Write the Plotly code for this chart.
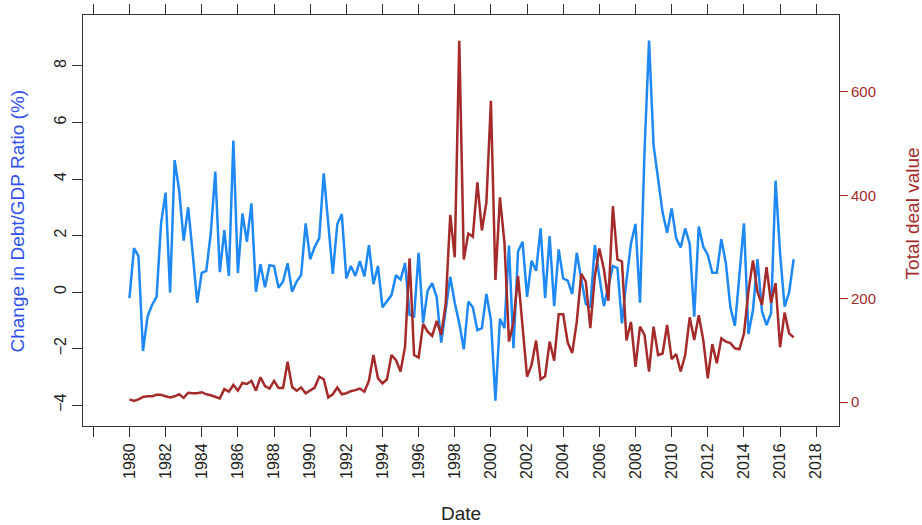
import plotly.graph_objects as go

# Quarterly data, 1980Q1 .. 2016Q4
debt_gdp_change = [
    -0.22, 1.55, 1.27, -2.09, -0.87, -0.46, -0.17, 2.43, 3.52, -0.02,
    4.67, 3.61, 1.82, 3.00, 1.37, -0.38, 0.68, 0.75, 2.08, 4.26,
    0.70, 2.19, 0.57, 5.36, 0.67, 2.78, 1.78, 3.14, 0.01, 0.98,
    0.17, 0.95, 0.92, 0.15, 0.37, 1.02, 0.01, 0.37, 0.60, 2.43,
    1.16, 1.60, 1.90, 4.20, 2.43, 0.64, 2.40, 2.76, 0.48, 0.92,
    0.57, 1.09, 0.55, 1.66, 0.28, 0.92, -0.54, -0.31, -0.11, 0.60,
    0.44, 1.02, -0.81, -0.87, 1.39, -1.09, 0.05, 0.31, -0.19, -1.79,
    -0.66, 0.54, -0.38, -1.11, -2.03, -0.34, -0.54, -1.35, -1.28, -0.07,
    -0.99, -3.85, -0.95, -1.28, 1.64, -1.99, 1.43, 1.78, -0.17, 1.11,
    0.75, 2.25, -0.22, 1.98, -0.50, 1.51, 0.48, 0.40, -0.07, 1.39,
    0.45, -0.42, -0.54, 1.66, 0.54, -0.50, 0.20, 0.92, 0.85, -1.11,
    0.40, 1.72, 2.41, -0.38, 5.00, 8.90, 5.20, 4.08, 2.81, 2.10,
    2.96, 1.90, 1.58, 2.25, 1.70, -0.87, 2.32, 1.60, 1.31, 0.68,
    0.68, 1.87, 1.02, -0.54, -1.20, 0.60, 2.43, -1.49, -0.64, 1.16,
    -0.69, -1.17, -0.75, 3.94, 1.37, -0.52, -0.02, 1.16,
]

total_deal_value = [
    5, 2, 5, 10, 11, 11, 14, 14, 11, 9,
    11, 15, 8, 18, 17, 17, 19, 15, 13, 10,
    7, 25, 20, 33, 22, 37, 35, 41, 22, 48,
    31, 26, 41, 27, 27, 78, 29, 22, 28, 17,
    22, 28, 49, 44, 9, 15, 28, 15, 17, 21,
    23, 26, 20, 41, 91, 46, 36, 44, 91, 81,
    59, 107, 278, 91, 86, 151, 136, 128, 157, 130,
    191, 362, 280, 699, 276, 326, 320, 425, 332, 386,
    583, 236, 396, 308, 117, 154, 244, 149, 49, 72,
    119, 44, 50, 117, 80, 170, 170, 115, 95, 155,
    248, 233, 143, 243, 297, 257, 196, 379, 276, 272,
    119, 155, 68, 146, 130, 59, 146, 91, 94, 149,
    83, 93, 59, 91, 164, 120, 168, 120, 46, 112,
    75, 123, 117, 114, 104, 102, 132, 215, 274, 213,
    188, 261, 192, 230, 106, 173, 133, 125,
]

start_year = 1980
dates = [start_year + i / 4 for i in range(len(debt_gdp_change))]

x_tick_years = list(range(1978, 2019, 2))
x_tick_labels = ["" if y < 1980 else str(y) for y in x_tick_years]
left_ticks = [-4, -2, 0, 2, 4, 6, 8]
right_ticks = [0, 200, 400, 600]

BLUE = "#1E88F5"
RED = "#A52A2A"
AXIS = "#333333"
FONT = "Liberation Sans, Arial, sans-serif"

fig = go.Figure()
fig.add_trace(go.Scatter(x=dates, y=debt_gdp_change, mode="lines",
                         line=dict(color=BLUE, width=2.5), yaxis="y",
                         showlegend=False))
fig.add_trace(go.Scatter(x=dates, y=total_deal_value, mode="lines",
                         line=dict(color=RED, width=2.5), yaxis="y2",
                         showlegend=False))

fig.update_layout(
    width=922, height=525, autosize=False,
    margin=dict(l=83, r=83, t=15, b=99, autoexpand=False),
    paper_bgcolor="white", plot_bgcolor="white",
    font=dict(family=FONT, color=AXIS),
    xaxis=dict(
        range=[1977.43, 2019.26], automargin=False,
        tickmode="array", tickvals=x_tick_years, ticktext=x_tick_labels,
        tickangle=-90, ticks="outside", ticklen=10, tickwidth=1,
        tickcolor=AXIS, tickfont=dict(size=16, color="#222222"),
        showline=True, linecolor=AXIS, linewidth=1, mirror="allticks",
        showgrid=False, zeroline=False,
    ),
    yaxis=dict(
        range=[-4.743, 9.805], automargin=False,
        tickmode="array", tickvals=left_ticks,
        tickangle=-90, ticks="outside", ticklen=10, tickwidth=1,
        tickcolor=AXIS, tickfont=dict(size=16, color="#222222"),
        showline=True, linecolor=AXIS, linewidth=1,
        showgrid=False, zeroline=False,
    ),
    yaxis2=dict(
        range=[-46.4, 749], overlaying="y", side="right", automargin=False,
        tickmode="array", tickvals=right_ticks,
        ticks="outside", ticklen=8, tickwidth=1,
        tickcolor=RED, tickfont=dict(size=15, color=RED),
        showline=True, linecolor=AXIS, linewidth=1,
        showgrid=False, zeroline=False,
    ),
    annotations=[
        dict(text="Change in Debt/GDP Ratio (%)", xref="paper", yref="paper",
             x=-0.086, y=0.5, textangle=-90, showarrow=False,
             font=dict(size=19, color="#2F4FF0", family=FONT),
             xanchor="center", yanchor="middle"),
        dict(text="Total deal value", xref="paper", yref="paper",
             x=1.097, y=0.518, textangle=-90, showarrow=False,
             font=dict(size=19, color=RED, family=FONT),
             xanchor="center", yanchor="middle"),
        dict(text="Date", xref="paper", yref="paper",
             x=0.5, y=-0.212, showarrow=False,
             font=dict(size=19, color="#222222", family=FONT),
             xanchor="center", yanchor="middle"),
    ],
)

post_js = (
    "document.documentElement.style.margin='0';"
    "document.documentElement.style.overflow='hidden';"
    "document.body.style.margin='0';"
    "document.body.style.padding='0';"
    "document.body.style.overflow='hidden';"
    "var gd=document.getElementById('{plot_id}');"
    "Plotly.relayout(gd,{width:922,height:525});"
)

fig.write_html("out.html",
               config={"responsive": False, "displayModeBar": False},
               post_script=post_js)
